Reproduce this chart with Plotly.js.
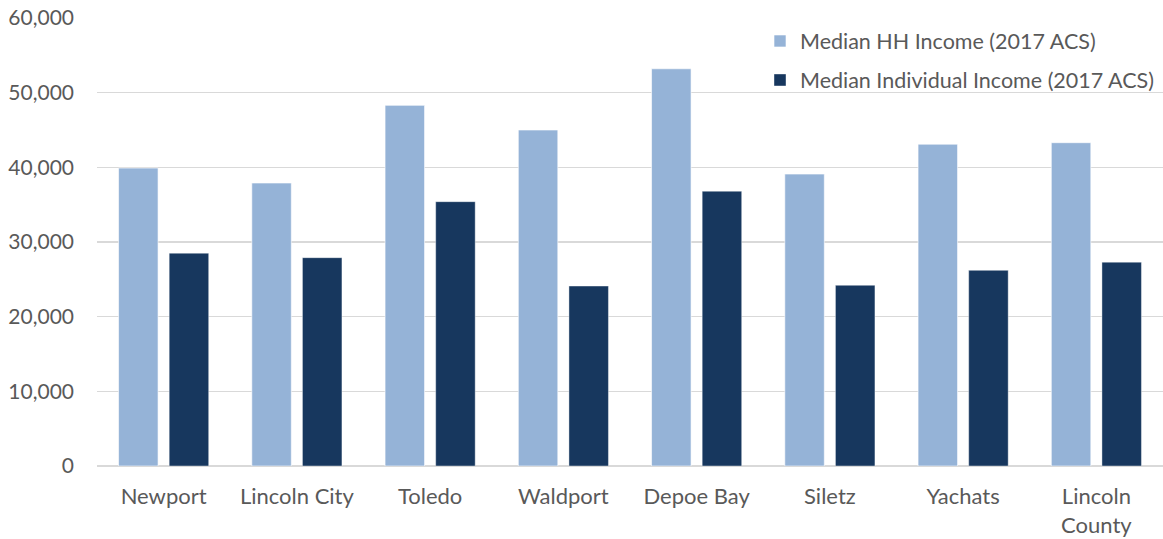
<!DOCTYPE html>
<html>
<head>
<meta charset="utf-8">
<script src="https://cdn.plot.ly/plotly-3.0.1.min.js"></script>
<style>
  html, body { margin: 0; padding: 0; background: #ffffff; }
  #chart { width: 1163px; height: 539px; }
</style>
</head>
<body>
<div id="chart"></div>
<script>
const categories = ["Newport", "Lincoln City", "Toledo", "Waldport", "Depoe Bay", "Siletz", "Yachats", "Lincoln<br>County"];
const hhIncome = [39900, 37900, 48300, 45000, 53200, 39100, 43100, 43300];
const indIncome = [28500, 27900, 35400, 24100, 36800, 24200, 26200, 27300];
const seriesNames = ["Median HH Income (2017 ACS)", "Median Individual Income (2017 ACS)"];
const yTicks = [0, 10000, 20000, 30000, 40000, 50000, 60000];

const fontFamily = "Lato, 'Open Sans', sans-serif";
const textColor = "#595959";

const traces = [
  {
    type: "bar", name: seriesNames[0], x: categories, y: hhIncome,
    marker: { color: "#95B3D7", line: { color: "rgba(255,255,255,0.6)", width: 1 } },
    legend: "legend", hoverinfo: "x+y"
  },
  {
    type: "bar", name: seriesNames[1], x: categories, y: indIncome,
    marker: { color: "#17375E", line: { color: "rgba(255,255,255,0.4)", width: 1 } },
    legend: "legend2", hoverinfo: "x+y"
  }
];

const legendCommon = {
  xref: "paper", yref: "paper", xanchor: "left", yanchor: "middle",
  bgcolor: "rgba(0,0,0,0)", borderwidth: 0,
  font: { family: fontFamily, size: 21.5, color: textColor },
  itemwidth: 30
};

const layout = {
  width: 1163, height: 539,
  margin: { l: 97, r: 0, t: 18, b: 73, pad: 0 },
  paper_bgcolor: "#ffffff", plot_bgcolor: "#ffffff",
  barmode: "group", bargap: 0.24, bargroupgap: 0.22,
  font: { family: fontFamily, size: 22, color: textColor },
  showlegend: true,
  legend: Object.assign({}, legendCommon, { x: (760 - 97) / 1066, y: (466 - 41) / 448 }),
  legend2: Object.assign({}, legendCommon, { x: (760 - 97) / 1066, y: (466 - 80) / 448 }),
  xaxis: {
    type: "category", showgrid: false, zeroline: false, showline: false,
    ticks: "", tickfont: { family: fontFamily, size: 22, color: textColor },
    ticklabelstandoff: 15, fixedrange: true
  },
  yaxis: {
    range: [0, 60000], tickvals: yTicks, tickformat: ",d",
    showgrid: true, gridcolor: "#D9D9D9", gridwidth: 1.5,
    zeroline: true, zerolinecolor: "#D9D9D9", zerolinewidth: 1.5,
    showline: false, ticks: "", ticklabelstandoff: 22,
    tickfont: { family: fontFamily, size: 21, color: textColor },
    fixedrange: true
  }
};

Plotly.newPlot("chart", traces, layout, { displayModeBar: false, staticPlot: true });
</script>
</body>
</html>
